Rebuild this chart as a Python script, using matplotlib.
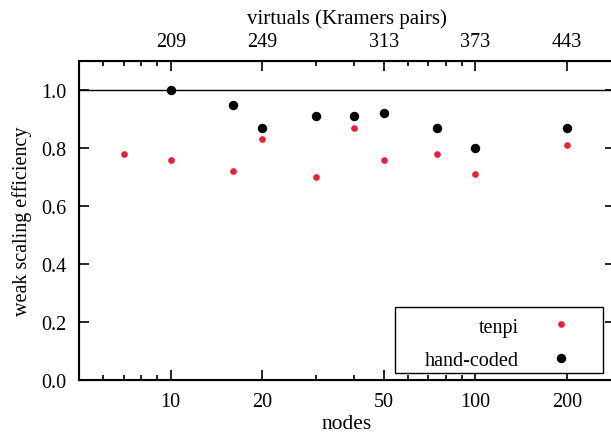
import matplotlib
matplotlib.use('Agg')
import matplotlib.pyplot as plt
from matplotlib.patches import Rectangle
from matplotlib.ticker import NullFormatter, FixedLocator, FixedFormatter

# data
tenpi_nodes = [7, 10, 16, 20, 30, 40, 50, 75, 100, 200]
tenpi_eff = [0.78, 0.76, 0.72, 0.83, 0.70, 0.87, 0.76, 0.78, 0.71, 0.81]
hand_nodes = [10, 16, 20, 30, 40, 50, 75, 100, 200]
hand_eff = [1.00, 0.95, 0.87, 0.91, 0.91, 0.92, 0.87, 0.80, 0.87]
node_ticks = [10, 20, 50, 100, 200]
virtual_labels = ['209', '249', '313', '373', '443']

plt.rcParams['font.family'] = ['Liberation Serif', 'DejaVu Serif']
plt.rcParams['font.size'] = 14.5

fig = plt.figure(figsize=(6.11, 4.35), dpi=100)
ax = fig.add_axes([79 / 611, 1 - 381 / 435, 536 / 611, 319 / 435])

ax.axhline(1.0, color='black', lw=1.0, zorder=1)
ax.plot(tenpi_nodes, tenpi_eff, 'o', color='#e8203a', ms=4.8, mec='none', label='tenpi', zorder=3)
ax.plot(hand_nodes, hand_eff, 'o', color='black', ms=6.8, mec='none', label='hand-coded', zorder=3)

ax.set_xscale('log')
ax.set_xlim(5, 287)
ax.set_ylim(0, 1.1)
ax.set_xticks(node_ticks)
ax.set_xticklabels([str(t) for t in node_ticks])
ax.xaxis.set_minor_formatter(NullFormatter())
ax.set_yticks([0, 0.2, 0.4, 0.6, 0.8, 1.0])
ax.set_yticklabels(['0.0', '0.2', '0.4', '0.6', '0.8', '1.0'])
ax.tick_params(which='both', direction='in', top=False, right=True)
ax.tick_params(which='major', length=7, width=1.2)
ax.tick_params(which='minor', length=3.5, width=1.2)
ax.tick_params(axis='x', which='major', pad=9)
ax.tick_params(axis='y', which='major', pad=9)
ax.set_xlabel('nodes', fontsize=15.5, labelpad=1.5)
ax.set_ylabel('weak scaling efficiency', fontsize=14.5, labelpad=7)
for s in ax.spines.values():
    s.set_linewidth(1.5)

# top axis: virtuals
ax2 = ax.twiny()
ax2.set_xscale('log')
ax2.set_xlim(ax.get_xlim())
ax2.xaxis.set_major_locator(FixedLocator(node_ticks))
ax2.xaxis.set_major_formatter(FixedFormatter(virtual_labels))
ax2.xaxis.set_minor_formatter(NullFormatter())
ax2.tick_params(which='both', direction='in')
ax2.tick_params(which='major', length=7, width=1.2, pad=7)
ax2.tick_params(which='minor', length=3.5, width=1.2)
ax2.set_xlabel('virtuals (Kramers pairs)', fontsize=15, labelpad=7)

# legend: gnuplot style, label then marker, with a wide box
ax.add_patch(Rectangle((0.5896, 0.0219), 0.388, 0.207, transform=ax.transAxes,
                       facecolor='white', edgecolor='black', lw=1.0, zorder=4))
leg = ax.legend(loc='lower right', markerfirst=False, frameon=False,
                borderpad=0.4, labelspacing=0.71, borderaxespad=0,
                handletextpad=1.35, handlelength=1.5,
                bbox_to_anchor=(0.9427, 0.0063))
leg.set_zorder(5)

fig.savefig('out.png', dpi=100)
